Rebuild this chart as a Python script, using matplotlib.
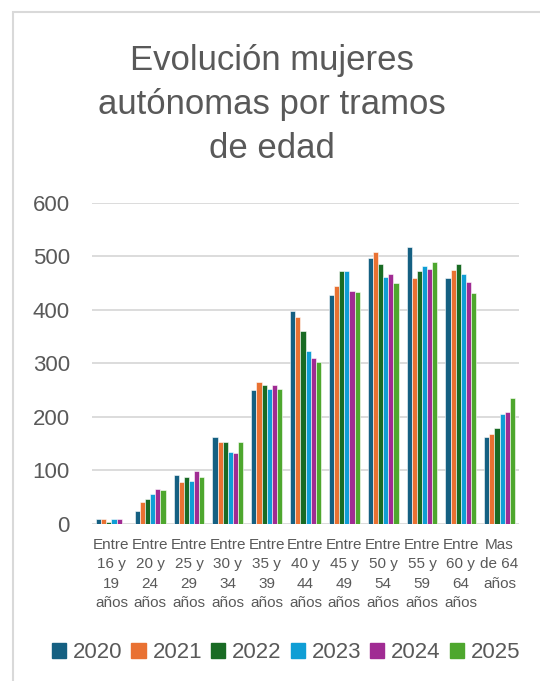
import numpy as np
import matplotlib.pyplot as plt
from matplotlib.patches import Rectangle, Patch

# Datos: mujeres autónomas por tramo de edad
tramos = ["Entre\n16 y\n19\naños", "Entre\n20 y\n24\naños", "Entre\n25 y\n29\naños",
          "Entre\n30 y\n34\naños", "Entre\n35 y\n39\naños", "Entre\n40 y\n44\naños",
          "Entre\n45 y\n49\naños", "Entre\n50 y\n54\naños", "Entre\n55 y\n59\naños",
          "Entre\n60 y\n64\naños", "Mas\nde 64\naños"]
anios = ["2020", "2021", "2022", "2023", "2024", "2025"]

v2020 = [9, 25, 91, 162, 251, 397, 427, 497, 518, 459, 162]
v2021 = [10, 41, 78, 154, 265, 386, 444, 508, 459, 474, 168]
v2022 = [4, 47, 88, 154, 259, 360, 472, 485, 472, 485, 179]
v2023 = [9, 56, 80, 134, 253, 323, 472, 461, 481, 466, 205]
v2024 = [9, 66, 99, 133, 260, 310, 436, 467, 476, 452, 210]
v2025 = [0, 64, 88, 154, 253, 303, 434, 450, 489, 431, 235]
series = [v2020, v2021, v2022, v2023, v2024, v2025]

colores = ["#156082", "#E97132", "#196B24", "#0F9ED5", "#A02B93", "#4EA72E"]
gris = "#595959"

plt.rcParams['font.family'] = ['Liberation Sans', 'DejaVu Sans']

fig = plt.figure(figsize=(5.4, 6.81), dpi=100)

# marco del gráfico (solo se ven los bordes izquierdo y superior)
fig.patches.append(Rectangle((13 / 540, -0.1), 1.0, 1.1 - 12 / 681,
                             transform=fig.transFigure, fill=False,
                             edgecolor="#d9d9d9", linewidth=1.5))

ax = fig.add_axes([92 / 540, 157 / 681, 427 / 540, 321.3 / 681])

x = np.arange(len(tramos))
ancho = 0.132
for i, (vals, col) in enumerate(zip(series, colores)):
    ax.bar(x + (i - 2.5) * ancho, vals, width=ancho, color=col,
           edgecolor="white", linewidth=0.4, zorder=3, label=anios[i])

ax.set_xlim(-0.5, len(tramos) - 0.5)
ax.set_ylim(0, 600)
ax.set_yticks(range(0, 601, 100))
ax.grid(axis='y', color="#d9d9d9", linewidth=1.3, zorder=0)
for s in ax.spines.values():
    s.set_visible(False)
ax.tick_params(axis='y', length=0, pad=16, labelsize=16, labelcolor=gris)
ax.tick_params(axis='x', length=0, pad=10, labelsize=11, labelcolor=gris)
ax.set_xticks(x)
ax.set_xticklabels(tramos, linespacing=1.5, va='top')

fig.text(272 / 540, 1 - 44 / 681, "Evolución mujeres\nautónomas por tramos\nde edad",
         ha='center', va='top', fontsize=25, color=gris, linespacing=1.42)

handles = [Patch(color=c, label=a) for c, a in zip(colores, anios)]
fig.legend(handles=handles, loc='center', bbox_to_anchor=(286 / 540, 1 - 653 / 681),
           ncol=6, frameon=False, fontsize=16, labelcolor=gris,
           handlelength=0.65, handleheight=0.65, handletextpad=0.3,
           columnspacing=0.4, borderaxespad=0)

fig.savefig("out.png", dpi=100)
